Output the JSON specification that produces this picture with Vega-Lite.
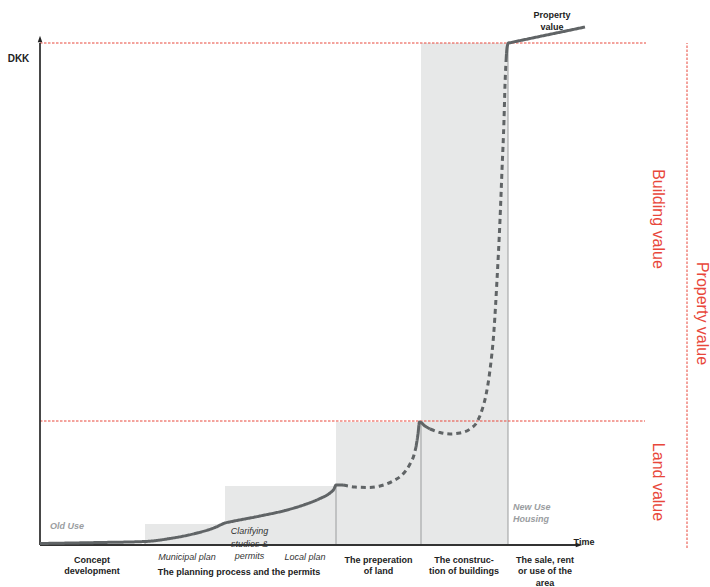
{
  "$schema": "https://vega.github.io/schema/vega-lite/v6.json",
  "width": 710,
  "height": 587,
  "padding": 0,
  "autosize": {"type": "none"},
  "background": "white",
  "config": {"view": {"stroke": null}, "text": {"font": "Liberation Sans"}},
  "datasets": {
    "boxes": [
      {"x": 105, "x2": 185, "y": 0, "y2": 21},
      {"x": 185, "x2": 296, "y": 0, "y2": 59},
      {"x": 296, "x2": 381, "y": 0, "y2": 123},
      {"x": 381, "x2": 468, "y": 0, "y2": 502}
    ],
    "vlines": [
      {"x": 105, "x2": 105, "y": 0, "y2": 3.5},
      {"x": 296, "x2": 296, "y": 0, "y2": 60},
      {"x": 381, "x2": 381, "y": 0, "y2": 123},
      {"x": 468, "x2": 468, "y": 0, "y2": 502}
    ],
    "redlines": [
      {"x": 0, "x2": 606, "y": 502, "y2": 502},
      {"x": 0, "x2": 605, "y": 124, "y2": 124},
      {"x": 647, "x2": 647, "y": -3, "y2": 502}
    ],
    "axes": [
      {"x": 0, "x2": 0, "y": 0, "y2": 502},
      {"x": 0, "x2": 536, "y": 0, "y2": 0}
    ],
    "uparrow": [{"x": 0, "y": 506}],
    "rightarrow": [{"x": 539, "y": 0}],
    "curve": [
      {"seg": "a", "st": "solid", "i": 1, "x": 0, "y": 1.5},
      {"seg": "a", "st": "solid", "i": 2, "x": 60, "y": 2.5},
      {"seg": "a", "st": "solid", "i": 3, "x": 105, "y": 3.5},
      {"seg": "a", "st": "solid", "i": 4, "x": 130, "y": 6.5},
      {"seg": "a", "st": "solid", "i": 5, "x": 155, "y": 11.5},
      {"seg": "a", "st": "solid", "i": 6, "x": 175, "y": 17.5},
      {"seg": "a", "st": "solid", "i": 7, "x": 185, "y": 22},
      {"seg": "a", "st": "solid", "i": 8, "x": 192, "y": 23.5},
      {"seg": "a", "st": "solid", "i": 9, "x": 220, "y": 29},
      {"seg": "a", "st": "solid", "i": 10, "x": 245, "y": 34.5},
      {"seg": "a", "st": "solid", "i": 11, "x": 265, "y": 40.5},
      {"seg": "a", "st": "solid", "i": 12, "x": 280, "y": 46.5},
      {"seg": "a", "st": "solid", "i": 13, "x": 290, "y": 52},
      {"seg": "a", "st": "solid", "i": 14, "x": 294, "y": 56},
      {"seg": "a", "st": "solid", "i": 15, "x": 296, "y": 60},
      {"seg": "a", "st": "solid", "i": 16, "x": 303, "y": 60},
      {"seg": "b", "st": "dashed", "i": 17, "x": 303, "y": 60},
      {"seg": "b", "st": "dashed", "i": 18, "x": 315, "y": 58},
      {"seg": "b", "st": "dashed", "i": 19, "x": 328, "y": 57.5},
      {"seg": "b", "st": "dashed", "i": 20, "x": 340, "y": 59},
      {"seg": "b", "st": "dashed", "i": 21, "x": 353, "y": 64},
      {"seg": "b", "st": "dashed", "i": 22, "x": 363, "y": 71},
      {"seg": "b", "st": "dashed", "i": 23, "x": 370, "y": 81},
      {"seg": "b", "st": "dashed", "i": 24, "x": 374, "y": 90},
      {"seg": "b", "st": "dashed", "i": 25, "x": 376, "y": 98},
      {"seg": "c", "st": "solid", "i": 26, "x": 376, "y": 98},
      {"seg": "c", "st": "solid", "i": 27, "x": 378, "y": 111},
      {"seg": "c", "st": "solid", "i": 28, "x": 379.5, "y": 123},
      {"seg": "c", "st": "solid", "i": 29, "x": 385, "y": 119},
      {"seg": "c", "st": "solid", "i": 30, "x": 390, "y": 116},
      {"seg": "d", "st": "dashed", "i": 31, "x": 390, "y": 116},
      {"seg": "d", "st": "dashed", "i": 32, "x": 400, "y": 112.5},
      {"seg": "d", "st": "dashed", "i": 33, "x": 410, "y": 111},
      {"seg": "d", "st": "dashed", "i": 34, "x": 420, "y": 112},
      {"seg": "d", "st": "dashed", "i": 35, "x": 430, "y": 116},
      {"seg": "d", "st": "dashed", "i": 36, "x": 437, "y": 123},
      {"seg": "d", "st": "dashed", "i": 37, "x": 442, "y": 135},
      {"seg": "d", "st": "dashed", "i": 38, "x": 446, "y": 150},
      {"seg": "d", "st": "dashed", "i": 39, "x": 450, "y": 175},
      {"seg": "d", "st": "dashed", "i": 40, "x": 454, "y": 215},
      {"seg": "d", "st": "dashed", "i": 41, "x": 457, "y": 265},
      {"seg": "d", "st": "dashed", "i": 42, "x": 460, "y": 325},
      {"seg": "d", "st": "dashed", "i": 43, "x": 462, "y": 375},
      {"seg": "d", "st": "dashed", "i": 44, "x": 464, "y": 425},
      {"seg": "d", "st": "dashed", "i": 45, "x": 465, "y": 460},
      {"seg": "d", "st": "dashed", "i": 46, "x": 466, "y": 483},
      {"seg": "e", "st": "solid", "i": 47, "x": 466, "y": 483},
      {"seg": "e", "st": "solid", "i": 48, "x": 467, "y": 497},
      {"seg": "e", "st": "solid", "i": 49, "x": 468.5, "y": 502},
      {"seg": "e", "st": "solid", "i": 50, "x": 470, "y": 502.3},
      {"seg": "e", "st": "solid", "i": 51, "x": 480, "y": 504.4},
      {"seg": "e", "st": "solid", "i": 52, "x": 500, "y": 508.6},
      {"seg": "e", "st": "solid", "i": 53, "x": 525, "y": 513.8},
      {"seg": "e", "st": "solid", "i": 54, "x": 545, "y": 518}
    ],
    "boldlabels": [
      {"x": 52, "y": -17.5, "t": "Concept\ndevelopment"},
      {"x": 199, "y": -30, "t": "The planning process and the permits"},
      {"x": 338.5, "y": -17.5, "t": "The preperation\nof land"},
      {"x": 424, "y": -17.5, "t": "The construc-\ntion of buildings"},
      {"x": 505, "y": -17.5, "t": "The sale, rent\nor use of the\narea"},
      {"x": 512, "y": 527, "t": "Property\nvalue"},
      {"x": 544, "y": 0.5, "t": "Time"}
    ],
    "italiclabels": [
      {"x": 147, "y": -14.5, "t": "Municipal plan"},
      {"x": 265, "y": -14.5, "t": "Local plan"},
      {"x": 209.5, "y": 11, "t": "Clarifying\nstudies &\npermits"}
    ],
    "graylabels": [
      {"x": 10, "y": 16.5, "t": "Old Use"},
      {"x": 473, "y": 35, "t": "New Use\nHousing"}
    ],
    "redlabels": [
      {"x": 618, "y": 326, "t": "Building value"},
      {"x": 618, "y": 63, "t": "Land value"},
      {"x": 662, "y": 231.5, "t": "Property value"}
    ],
    "dkk": [{"x": -21.5, "y": 483, "t": "DKK"}]
  },
  "encoding": {
    "x": {"field": "x", "type": "quantitative", "axis": null, "scale": {"domain": [-40, 670], "nice": false, "zero": false}},
    "y": {"field": "y", "type": "quantitative", "axis": null, "scale": {"domain": [-42, 545], "nice": false, "zero": false}}
  },
  "layer": [
    {
      "data": {"name": "boxes"},
      "mark": {"type": "rect", "fill": "#e7e8e8"},
      "encoding": {"x2": {"field": "x2"}, "y2": {"field": "y2"}}
    },
    {
      "data": {"name": "vlines"},
      "mark": {"type": "rule", "color": "#9a9c9d", "strokeWidth": 1},
      "encoding": {"x2": {"field": "x2"}, "y2": {"field": "y2"}}
    },
    {
      "data": {"name": "redlines"},
      "mark": {"type": "rule", "color": "#e8473b", "strokeWidth": 1, "strokeDash": [2.5, 1.5]},
      "encoding": {"x2": {"field": "x2"}, "y2": {"field": "y2"}}
    },
    {
      "data": {"name": "axes"},
      "mark": {"type": "rule", "color": "#333333", "strokeWidth": 1.8},
      "encoding": {"x2": {"field": "x2"}, "y2": {"field": "y2"}}
    },
    {
      "data": {"name": "uparrow"},
      "mark": {"type": "point", "filled": true, "color": "#222222", "opacity": 1, "size": 169, "shape": "M0,-0.5L0.35,0.5L-0.35,0.5Z"},
      "encoding": {}
    },
    {
      "data": {"name": "rightarrow"},
      "mark": {"type": "point", "filled": true, "color": "#222222", "opacity": 1, "size": 169, "shape": "M0.5,0L-0.5,0.35L-0.5,-0.35Z"},
      "encoding": {}
    },
    {
      "data": {"name": "curve"},
      "mark": {"type": "line", "color": "#606466", "strokeWidth": 3, "strokeCap": "butt", "strokeJoin": "round", "interpolate": "monotone"},
      "encoding": {
        "detail": {"field": "seg", "type": "nominal"},
        "order": {"field": "i", "type": "quantitative"},
        "strokeDash": {"field": "st", "type": "nominal", "legend": null, "scale": {"domain": ["solid", "dashed"], "range": [[1, 0], [5, 4]]}}
      }
    },
    {
      "data": {"name": "boldlabels"},
      "mark": {"type": "text", "fontSize": 9, "fontWeight": "bold", "color": "#222222", "align": "center", "baseline": "alphabetic", "lineBreak": "\n", "lineHeight": 11.5},
      "encoding": {"text": {"field": "t", "type": "nominal"}}
    },
    {
      "data": {"name": "italiclabels"},
      "mark": {"type": "text", "fontSize": 9, "fontStyle": "italic", "color": "#333333", "align": "center", "baseline": "alphabetic", "lineBreak": "\n", "lineHeight": 12.5},
      "encoding": {"text": {"field": "t", "type": "nominal"}}
    },
    {
      "data": {"name": "graylabels"},
      "mark": {"type": "text", "fontSize": 9, "fontStyle": "italic", "fontWeight": "bold", "color": "#9a9d9f", "align": "left", "baseline": "alphabetic", "lineBreak": "\n", "lineHeight": 12},
      "encoding": {"text": {"field": "t", "type": "nominal"}}
    },
    {
      "data": {"name": "redlabels"},
      "mark": {"type": "text", "fontSize": 16, "color": "#e8473b", "align": "center", "baseline": "middle", "angle": 90},
      "encoding": {"text": {"field": "t", "type": "nominal"}}
    },
    {
      "data": {"name": "dkk"},
      "mark": {"type": "text", "fontSize": 10, "fontWeight": "bold", "color": "#222222", "align": "center", "baseline": "alphabetic"},
      "encoding": {"text": {"field": "t", "type": "nominal"}}
    }
  ]
}
